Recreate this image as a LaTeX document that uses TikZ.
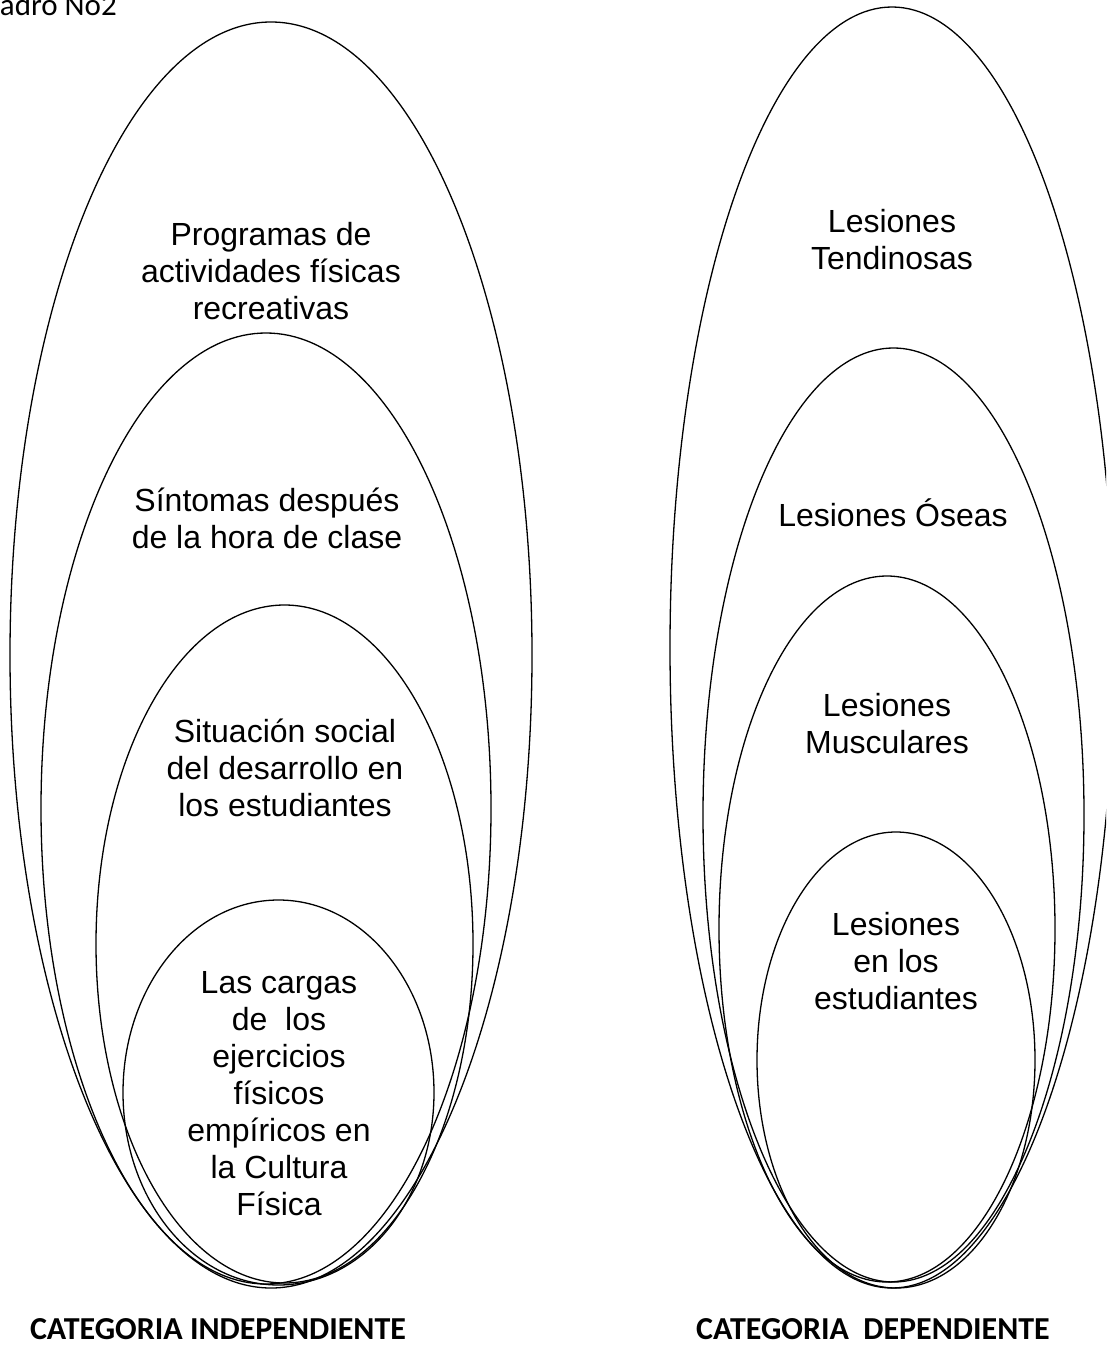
\documentclass[tikz,border=0pt]{standalone}
\usepackage{fontspec}
\setmainfont{Liberation Sans}
\newfontfamily\calibri{Carlito}
\usetikzlibrary{shapes.geometric}

\begin{document}
\begin{tikzpicture}[x=1pt,y=-1pt,
  ring/.style={draw, ellipse, inner sep=0pt, outer sep=0pt, line width=1.3pt},
  txt/.style={align=center, font=\fontsize{32}{37}\selectfont, inner sep=0pt},
  cat/.style={font=\calibri\bfseries\fontsize{32}{36}\selectfont, anchor=base, inner sep=0pt}]
\useasboundingbox (0,0) rectangle (1106,1346);
\clip (0,0) rectangle (1106,1346);

% caption in the upper left corner
\node[anchor=base east, font=\calibri\fontsize{31}{34}\selectfont, inner sep=0pt] (title) at (117,16) {Cuadro No2};

% independent category: nested ellipses
\node[ring, minimum width=522pt, minimum height=1266pt] (e1) at (271,655) {};
\node[ring, minimum width=450pt, minimum height=951pt]  (e2) at (266,808.5) {};
\node[ring, minimum width=377pt, minimum height=678pt]  (e3) at (284.5,944) {};
\node[ring, minimum width=311pt, minimum height=385pt]  (e4) at (278.5,1092.5) {};

\node[txt] (t1) at (271,271) {Programas de\\actividades físicas\\recreativas};
\node[txt] (t2) at (267,518.5) {Síntomas después\\de la hora de clase};
\node[txt] (t3) at (285,768) {Situación social\\del desarrollo en\\los estudiantes};
\node[txt] (t4) at (279,1093.5) {Las cargas\\de\ \ los\\ejercicios\\físicos\\empíricos en\\la Cultura\\Física};

% dependent category: nested ellipses
\node[ring, minimum width=444pt, minimum height=1281pt] (f1) at (892,647.5) {};
\node[ring, minimum width=381pt, minimum height=934pt]  (f2) at (893.5,815) {};
\node[ring, minimum width=336pt, minimum height=706pt]  (f3) at (887,929) {};
\node[ring, minimum width=278pt, minimum height=456pt]  (f4) at (896,1060) {};

\node[txt] (s1) at (892,240) {Lesiones\\Tendinosas};
\node[txt] (s2) at (893,513) {Lesiones Óseas};
\node[txt] (s3) at (887,724) {Lesiones\\Musculares};
\node[txt] (s4) at (896,961.5) {Lesiones\\en los\\estudiantes};

% category captions
\node[cat] (c1) at (218,1339) {CATEGORIA INDEPENDIENTE};
\node[cat] (c2) at (873,1339) {CATEGORIA\ \ DEPENDIENTE};
\end{tikzpicture}
\end{document}
